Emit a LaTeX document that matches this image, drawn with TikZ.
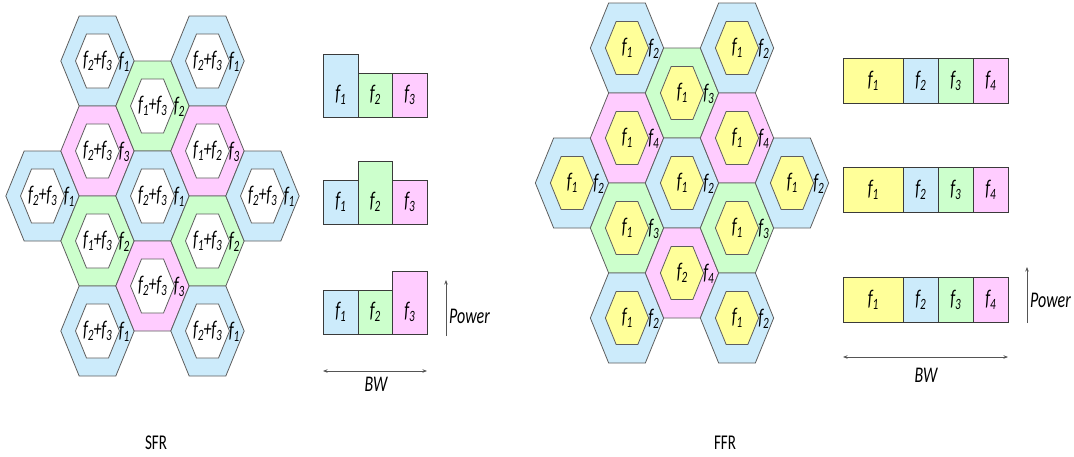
\documentclass[tikz,border=0pt]{standalone}
\usepackage{fontspec}
\setmainfont{Carlito}
\usepackage{graphicx}
\usetikzlibrary{arrows.meta}

\definecolor{cellblue}{HTML}{CCEBFB}
\definecolor{cellgreen}{HTML}{CCFFCC}
\definecolor{cellpink}{HTML}{FFCCFF}
\definecolor{cellyellow}{HTML}{FFFF99}
\definecolor{edgegray}{HTML}{5E5E5E}
\definecolor{bargray}{HTML}{3A3A3A}
\definecolor{arrowgray}{HTML}{555555}

% tall, narrow lettering
\newcommand\vstr[1]{\scalebox{1}[1.4]{#1}}
% italic f with a subscript index
\newcommand\fq[1]{\textit{f}\kern-0.2pt\raisebox{-2.6pt}{\fontsize{11.2}{11.2}\selectfont\textit{#1}}}

% SFR cells: x / y / ring colour / inner text / ring text
\def\sfrcells{%
  42.5/196/cellblue/{\fq{2}+\fq{3}}/{\fq{1}},
  97.5/61/cellblue/{\fq{2}+\fq{3}}/{\fq{1}},
  97.5/151/cellpink/{\fq{2}+\fq{3}}/{\fq{3}},
  97.5/241/cellgreen/{\fq{1}+\fq{3}}/{\fq{2}},
  97.5/331/cellblue/{\fq{2}+\fq{3}}/{\fq{1}},
  152.5/106/cellgreen/{\fq{1}+\fq{3}}/{\fq{2}},
  152.5/196/cellblue/{\fq{2}+\fq{3}}/{\fq{1}},
  152.5/286/cellpink/{\fq{2}+\fq{3}}/{\fq{3}},
  207.5/61/cellblue/{\fq{2}+\fq{3}}/{\fq{1}},
  207.5/151/cellpink/{\fq{1}+\fq{2}}/{\fq{3}},
  207.5/241/cellgreen/{\fq{1}+\fq{3}}/{\fq{2}},
  207.5/331/cellblue/{\fq{2}+\fq{3}}/{\fq{1}},
  262.5/196/cellblue/{\fq{2}+\fq{3}}/{\fq{1}}}

% FFR cells: x / y / ring colour / inner text / ring text
\def\ffrcells{%
  572/183/cellblue/{\fq{1}}/{\fq{2}},
  627/48/cellblue/{\fq{1}}/{\fq{2}},
  627/138/cellpink/{\fq{1}}/{\fq{4}},
  627/228/cellgreen/{\fq{1}}/{\fq{3}},
  627/318/cellblue/{\fq{1}}/{\fq{2}},
  682/93/cellgreen/{\fq{1}}/{\fq{3}},
  682/183/cellblue/{\fq{1}}/{\fq{2}},
  682/273/cellpink/{\fq{2}}/{\fq{4}},
  737/48/cellblue/{\fq{1}}/{\fq{2}},
  737/138/cellpink/{\fq{1}}/{\fq{4}},
  737/228/cellgreen/{\fq{1}}/{\fq{3}},
  737/318/cellblue/{\fq{1}}/{\fq{2}},
  792/183/cellblue/{\fq{1}}/{\fq{2}}}

\tikzset{
  hexedge/.style={draw=edgegray, line width=0.8pt, line join=miter},
  bar/.style={draw=bargray, line width=1pt},
  lab/.style={inner sep=0pt, font=\fontsize{16}{16}\selectfont\itshape},
  caption/.style={inner sep=0pt, font=\fontsize{15}{15}\selectfont},
  axisarrow/.style={draw=arrowgray, line width=0.8pt},
  tip/.tip={Stealth[length=4.5pt, width=3.5pt]}
}

\begin{document}
\begin{tikzpicture}[x=1pt, y=-1pt]
\useasboundingbox (0,0) rectangle (1074,456);

% ---------- SFR cell cluster ----------
\foreach \cx/\cy/\cc/\ta/\tb in \sfrcells {
  \draw[hexedge, fill=\cc, shift={(\cx,\cy)}]
    (-36.67,0) -- (-18.33,-45) -- (18.33,-45) -- (36.67,0) -- (18.33,45) -- (-18.33,45) -- cycle;
  \draw[hexedge, fill=white, shift={(\cx,\cy)}, scale=0.6]
    (-36.67,0) -- (-18.33,-45) -- (18.33,-45) -- (36.67,0) -- (18.33,45) -- (-18.33,45) -- cycle;
}
\foreach \cx/\cy/\cc/\ta/\tb [count=\i] in \sfrcells {
  \node[lab] (sfr-in-\i) at (\cx,\cy) {\vstr{\ta}};
  \node[lab] (sfr-ring-\i) at (\cx+26.5,\cy+1) {\vstr{\tb}};
}

% ---------- FFR cell cluster ----------
\foreach \cx/\cy/\cc/\ta/\tb in \ffrcells {
  \draw[hexedge, fill=\cc, shift={(\cx,\cy)}]
    (-36.67,0) -- (-18.33,-45) -- (18.33,-45) -- (36.67,0) -- (18.33,45) -- (-18.33,45) -- cycle;
  \draw[hexedge, fill=cellyellow, shift={(\cx,\cy)}, scale=0.59]
    (-36.67,0) -- (-18.33,-45) -- (18.33,-45) -- (36.67,0) -- (18.33,45) -- (-18.33,45) -- cycle;
}
\foreach \cx/\cy/\cc/\ta/\tb [count=\i] in \ffrcells {
  \node[lab] (ffr-in-\i) at (\cx,\cy) {\vstr{\ta}};
  \node[lab] (ffr-ring-\i) at (\cx+26.5,\cy+1) {\vstr{\tb}};
}

% ---------- SFR power profiles ----------
\foreach \yb/\hi [count=\g] in {117/1, 224/2, 334/3} {
  \foreach \xl/\xr/\cc/\k in {323/358/cellblue/1, 358/392/cellgreen/2, 392/427/cellpink/3} {
    \pgfmathsetmacro\yt{\k==\hi ? \yb-63 : \yb-44}
    \draw[bar, fill=\cc] (\xl,\yb) rectangle (\xr,\yt);
    \node[lab] (sbar-\g-\k) at ({(\xl+\xr)/2}, \yb-22) {\vstr{\fq{\k}}};
  }
}
\coordinate (sp-tail) at (446,336);
\coordinate (sp-head) at (446,280);
\draw[axisarrow, -tip] (sp-tail) -- (sp-head);
\node[lab, anchor=west] (sp-label) at (449,316) {\vstr{Power}};
\coordinate (sbw-l) at (323,371);
\coordinate (sbw-r) at (427,371);
\draw[axisarrow, tip-tip] (sbw-l) -- (sbw-r);
\node[lab] (sbw-label) at (376,384) {\vstr{BW}};

% ---------- FFR power profiles ----------
\foreach \yb [count=\g] in {103, 212, 322} {
  \foreach \xl/\xr/\cc/\k in {843/903/cellyellow/1, 903/938/cellblue/2, 938/973/cellgreen/3, 973/1008/cellpink/4} {
    \draw[bar, fill=\cc] (\xl,\yb) rectangle (\xr,\yb-45);
    \node[lab] (fbar-\g-\k) at ({(\xl+\xr)/2}, \yb-22) {\vstr{\fq{\k}}};
  }
}
\coordinate (fp-tail) at (1027,323);
\coordinate (fp-head) at (1027,267);
\draw[axisarrow, -tip] (fp-tail) -- (fp-head);
\node[lab, anchor=west] (fp-label) at (1030,300) {\vstr{Power}};
\coordinate (fbw-l) at (843,357);
\coordinate (fbw-r) at (1008,357);
\draw[axisarrow, tip-tip] (fbw-l) -- (fbw-r);
\node[lab] (fbw-label) at (926,375) {\vstr{BW}};

% ---------- scheme names ----------
\node[caption] (sfr-name) at (156,443) {\vstr{SFR}};
\node[caption] (ffr-name) at (725,443) {\vstr{FFR}};
\end{tikzpicture}
\end{document}
